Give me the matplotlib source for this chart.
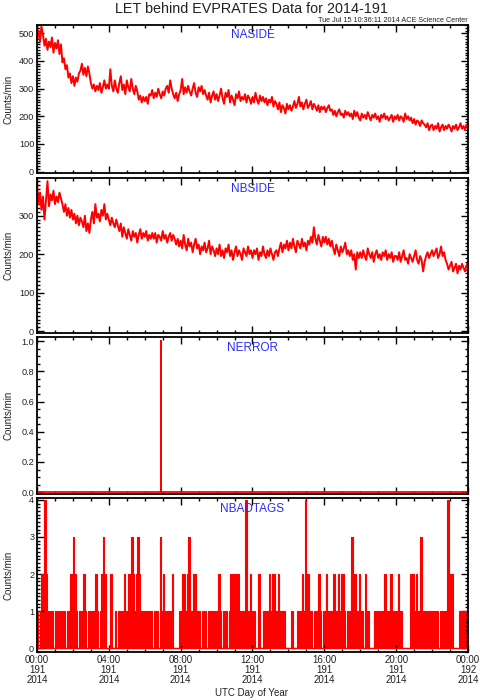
import numpy as np
import matplotlib
matplotlib.use("Agg")
import matplotlib.pyplot as plt
from matplotlib.ticker import MultipleLocator, FormatStrFormatter

plt.rcParams['font.family'] = ['Liberation Sans', 'DejaVu Sans']

# 5-minute samples, counts/min, 00:00 .. 24:00
naside = [
    480, 510, 470, 525, 495, 455, 480, 440, 470, 450, 485, 430, 465, 445, 475, 425, 460, 395, 410, 370, 385, 340, 355, 320,
    345, 310, 340, 325, 355, 365, 390, 350, 375, 345, 380, 355, 320, 300, 315, 290, 310, 295, 320, 285, 305, 330, 300, 315,
    300, 370, 310, 290, 330, 300, 285, 320, 345, 295, 315, 280, 330, 305, 290, 335, 300, 280, 310, 290, 260, 275, 250, 270,
    255, 270, 245, 280, 275, 295, 265, 285, 270, 300, 280, 265, 290, 275, 300, 310, 285, 330, 300, 280, 265, 285, 255, 280,
    295, 335, 280, 305, 285, 310, 290, 275, 300, 320, 285, 270, 305, 290, 310, 280, 295, 275, 260, 285, 250, 275, 290, 260,
    280, 255, 275, 300, 265, 245, 285, 270, 295, 250, 275, 260, 240, 280, 265, 290, 255, 270, 260, 280, 250, 275, 265, 245,
    270, 250, 285, 260, 245, 275, 255, 270, 250, 265, 240, 260, 250, 270, 235, 255, 245, 225, 250, 215, 240, 230, 210, 245,
    225, 240, 220, 235, 255, 230, 245, 270, 235, 250, 225, 245, 260, 230, 240, 255, 225, 245, 235, 220, 240, 215, 235, 225,
    235, 215, 230, 240, 220, 225, 205, 220, 200, 215, 225, 205, 210, 195, 220, 205, 215, 200, 210, 190, 220, 200, 215, 195,
    185, 210, 195, 205, 190, 215, 200, 185, 205, 195, 210, 190, 200, 180, 205, 195, 210, 190, 200, 185, 195, 205, 180, 200,
    190, 205, 185, 200, 195, 180, 210, 190, 200, 185, 195, 175, 190, 170, 185, 180, 165, 185, 175, 170, 160, 175, 150, 165,
    170, 150, 165, 155, 175, 145, 160, 170, 150, 165, 155, 170, 160, 145, 165, 155, 170, 150, 160, 175, 155, 165, 150, 170,
    165,
]

nbside = [
    385, 330, 360, 315, 350, 290, 340, 390, 325, 355, 340, 365, 330, 350, 335, 360, 345, 330, 310, 330, 300, 320, 295, 315,
    290, 305, 280, 300, 275, 295, 285, 270, 300, 260, 280, 255, 290, 310, 280, 330, 295, 305, 285, 315, 300, 330, 290, 305,
    290, 275, 295, 280, 270, 290, 275, 260, 280, 245, 270, 255, 240, 265, 250, 235, 260, 245, 255, 230, 250, 265, 240, 255,
    245, 260, 235, 250, 240, 255, 240, 255, 230, 250, 245, 235, 260, 240, 250, 230, 245, 255, 235, 250, 240, 225, 240, 220,
    235, 215, 250, 225, 210, 240, 220, 230, 205, 225, 240, 215, 225, 200, 220, 210, 230, 205, 215, 235, 200, 220, 210, 195,
    215, 200, 225, 195, 210, 190, 215, 205, 225, 195, 210, 185, 205, 220, 195, 210, 200, 185, 215, 205, 195, 220, 200, 210,
    190, 210, 200, 215, 185, 205, 195, 220, 200, 190, 210, 195, 215, 200, 185, 205, 210, 195, 215, 230, 205, 225, 215, 235,
    210, 230, 215, 240, 220, 205, 235, 225, 215, 240, 220, 230, 210, 235, 225, 245, 230, 270, 240, 225, 250, 235, 220, 245,
    230, 245, 225, 240, 220, 235, 215, 200, 225, 210, 195, 220, 205, 215, 230, 200, 210, 195, 210, 185, 200, 160, 205, 190,
    205, 190, 210, 195, 185, 215, 200, 190, 205, 180, 200, 210, 190, 200, 185, 205, 195, 210, 185, 200, 190, 205, 180, 195,
    195, 185, 205, 180, 195, 210, 185, 190, 175, 200, 190, 180, 195, 210, 185, 175, 195, 185, 155, 180, 195, 205, 190, 200,
    210, 195, 205, 215, 190, 200, 220, 195, 205, 185, 175, 160, 170, 180, 155, 165, 175, 150, 170, 160, 175, 165, 155, 170,
    180,
]

nerror_hours = [0.0, 6.92, 6.92, 6.92, 24.0]
nerror = [0, 0, 1, 0, 0]

# 5-minute bins, 00:00 .. 23:55
nbadtags = [
    1, 0, 1, 2, 2, 4, 2, 1, 0, 1, 1, 0, 1, 1, 0, 1, 0, 1, 1, 0, 1, 1, 2, 2,
    3, 2, 1, 0, 1, 1, 0, 2, 1, 0, 1, 1, 0, 1, 1, 2, 1, 0, 1, 2, 3, 2, 0, 0,
    0, 2, 0, 0, 1, 0, 1, 1, 0, 1, 2, 1, 1, 2, 1, 3, 2, 1, 2, 3, 2, 1, 0, 1,
    1, 1, 0, 1, 1, 0, 1, 1, 1, 0, 3, 1, 2, 1, 0, 1, 0, 1, 2, 0, 0, 0, 0, 1,
    1, 2, 2, 1, 2, 3, 1, 1, 2, 2, 1, 1, 1, 0, 1, 1, 1, 0, 1, 1, 0, 1, 1, 1,
    1, 2, 1, 0, 1, 1, 1, 0, 1, 2, 1, 2, 1, 2, 2, 1, 1, 1, 1, 4, 1, 1, 2, 1,
    1, 1, 0, 0, 2, 0, 0, 1, 1, 0, 1, 2, 1, 2, 2, 1, 1, 2, 1, 0, 1, 1, 0, 0,
    0, 0, 1, 0, 0, 0, 1, 0, 1, 2, 1, 4, 2, 2, 1, 1, 0, 1, 1, 1, 2, 1, 0, 1,
    1, 2, 1, 0, 1, 1, 2, 1, 1, 2, 1, 2, 2, 1, 0, 1, 1, 0, 3, 1, 2, 1, 1, 2,
    1, 1, 0, 2, 1, 1, 0, 0, 0, 1, 1, 0, 1, 1, 1, 1, 2, 1, 1, 0, 2, 1, 1, 1,
    1, 2, 1, 1, 0, 0, 0, 0, 0, 2, 2, 2, 1, 2, 1, 1, 3, 1, 1, 0, 1, 0, 1, 1,
    1, 0, 1, 1, 0, 1, 1, 0, 1, 1, 4, 2, 2, 2, 0, 0, 0, 0, 1, 0, 1, 0, 1, 1,
]

assert len(naside) == 289 and len(nbside) == 289 and len(nbadtags) == 288

xticks = [0, 4, 8, 12, 16, 20, 24]
xticklabels = ["00:00\n191\n2014", "04:00\n191\n2014", "08:00\n191\n2014",
               "12:00\n191\n2014", "16:00\n191\n2014", "20:00\n191\n2014",
               "00:00\n192\n2014"]

txt = '#222222'
W, H = 481, 700
fig = plt.figure(figsize=(W / 100, H / 100), dpi=100)


def panel(top, bottom):
    return fig.add_axes([37 / W, 1 - bottom / H, 431 / W, (bottom - top) / H])


def style(ax, ylim, major, minor, name):
    ax.set_xlim(0, 24)
    ax.set_ylim(*ylim)
    ax.xaxis.set_major_locator(MultipleLocator(4))
    ax.xaxis.set_minor_locator(MultipleLocator(1))
    ax.yaxis.set_major_locator(MultipleLocator(major))
    ax.yaxis.set_minor_locator(MultipleLocator(minor))
    ax.tick_params(which='both', direction='in', top=True, right=True,
                   width=1, color='black', labelsize=6.6, labelcolor=txt, pad=2)
    ax.tick_params(which='major', length=5)
    ax.tick_params(which='minor', length=2.5)
    for s in ax.spines.values():
        s.set_linewidth(1.3)
    ax.set_xticklabels([])
    ax.set_ylabel("Counts/min", fontsize=7, color=txt)
    ax.yaxis.set_label_coords(-0.055, 0.5)
    ax.text(0.5, 0.93, name, transform=ax.transAxes, ha='center', va='center',
            color='#2a2aff', fontsize=8.5)


t5 = np.arange(len(naside)) / 12.0
tb = np.arange(len(nbadtags)) / 12.0 + 1 / 24.0

ax1 = panel(25, 173)
ax1.plot(t5, naside, color='red', lw=1.4, clip_on=False)
style(ax1, (-5, 530), 100, 10, "NASIDE")

ax2 = panel(178, 333)
ax2.plot(t5, nbside, color='red', lw=1.4, clip_on=False)
style(ax2, (-5, 398), 100, 10, "NBSIDE")

ax3 = panel(337, 494)
ax3.plot(nerror_hours, nerror, color='red', lw=1.3)
style(ax3, (-0.012, 1.027), 0.2, 0.05, "NERROR")
ax3.yaxis.set_major_formatter(FormatStrFormatter('%.1f'))

ax4 = panel(498, 652)
ax4.bar(tb, nbadtags, width=1 / 12, color='red', linewidth=0)
ax4.plot(tb, nbadtags, color='red', lw=0.8, drawstyle='steps-mid', clip_on=False)
ax4.axhline(0, color='red', lw=1.0)
style(ax4, (-0.1, 4.05), 1, 0.1, "NBADTAGS")
ax4.set_xticks(xticks)
ax4.set_xticklabels(xticklabels, fontsize=7, color=txt, linespacing=1.0)

fig.text(252 / W, 1 - 693 / H, "UTC Day of Year", ha='center', va='center',
         fontsize=7, color=txt)
fig.text(252 / W, 1 - 9 / H, "LET behind EVPRATES Data for 2014-191",
         ha='center', va='center', fontsize=10.4, color=txt)
fig.text(468 / W, 1 - 20.5 / H, "Tue Jul 15 10:36:11 2014 ACE Science Center",
         ha='right', va='center', fontsize=5.2, color=txt)

fig.savefig("out.png", dpi=100)
